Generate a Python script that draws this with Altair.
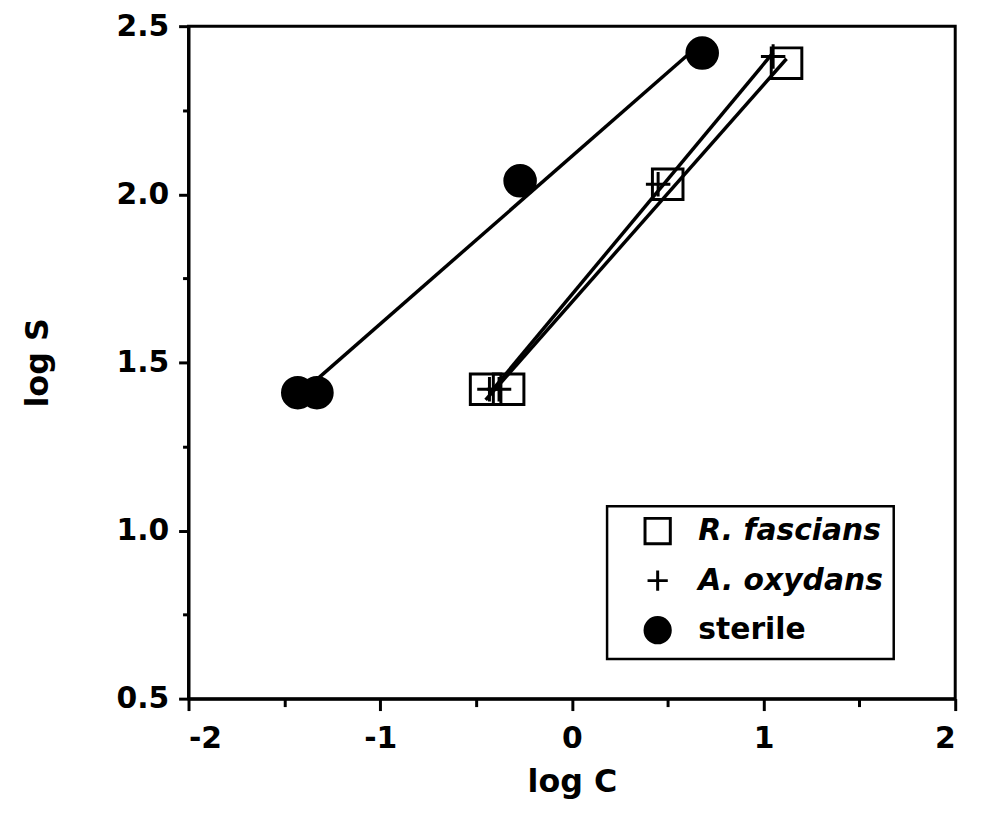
import altair as alt
import pandas as pd

# ---- data ----
series_names = ["R. fascians", "A. oxydans", "sterile"]

r_fascians_logC = [-0.45, -0.33, 0.50, 1.12]
r_fascians_logS = [1.42, 1.42, 2.03, 2.39]

a_oxydans_logC = [-0.43, -0.38, 0.45, 1.05]
a_oxydans_logS = [1.42, 1.42, 2.03, 2.41]

sterile_logC = [-1.43, -1.33, -0.27, 0.68]
sterile_logS = [1.41, 1.41, 2.04, 2.42]

x_tick_values = [-2, -1.5, -1, -0.5, 0, 0.5, 1, 1.5, 2]
y_tick_values = [0.5, 0.75, 1.0, 1.25, 1.5, 1.75, 2.0, 2.25, 2.5]

rows = []
for name, xs, ys in [
    (series_names[0], r_fascians_logC, r_fascians_logS),
    (series_names[1], a_oxydans_logC, a_oxydans_logS),
    (series_names[2], sterile_logC, sterile_logS),
]:
    for xv, yv in zip(xs, ys):
        rows.append({"series": name, "logC": xv, "logS": yv})
df = pd.DataFrame(rows)

FONT = "DejaVu Sans"

x_enc = alt.X(
    "logC:Q",
    scale=alt.Scale(domain=[-2, 2], nice=False, zero=False),
    axis=alt.Axis(
        title="log C",
        values=x_tick_values,
        labelExpr="datum.value % 1 === 0 ? '' + datum.value : ''",
        tickSize={"condition": {"test": "datum.value % 1 === 0", "value": 12}, "value": 8},
        labelPadding=13,
        titlePadding=14,
    ),
)
y_enc = alt.Y(
    "logS:Q",
    scale=alt.Scale(domain=[0.5, 2.5], nice=False, zero=False),
    axis=alt.Axis(
        title="log S",
        values=y_tick_values,
        labelExpr="datum.value % 0.5 === 0 ? format(datum.value, '.1f') : ''",
        tickSize={"condition": {"test": "datum.value % 0.5 === 0", "value": 10}, "value": 6},
        labelPadding=10,
        titlePadding=62,
    ),
)

# fitted (least-squares) lines, one per series
lines = (
    alt.Chart(df)
    .transform_regression("logC", "logS", groupby=["series"])
    .mark_line(color="black", strokeWidth=3.5)
    .encode(x=x_enc, y=y_enc, detail="series:N")
)

legend = alt.Legend(
    title=None,
    orient="none",
    legendX=422,
    legendY=484,
    padding=10,
    symbolOffset=26,
    labelOffset=26,
    rowPadding=14,
    symbolSize=650,
    symbolStrokeWidth=3,
    labelFont=FONT,
    labelFontSize=30,
    labelFontWeight="bold",
    labelFontStyle=alt.ExprRef("datum.value === 'sterile' ? 'normal' : 'italic'"),
    labelColor="black",
    labelLimit=400,
    strokeColor="black",
    fillColor="white",
)

points = alt.Chart(df).mark_point(filled=True, size=950, strokeWidth=3, opacity=1).encode(
    x=x_enc,
    y=y_enc,
    shape=alt.Shape(
        "series:N",
        scale=alt.Scale(
            domain=series_names,
            range=["square", "M-0.8,0H0.8M0,-0.8V0.8", "circle"],
        ),
        legend=legend,
    ),
    fill=alt.Fill(
        "series:N",
        scale=alt.Scale(domain=series_names, range=["transparent", "transparent", "black"]),
        legend=legend,
    ),
    stroke=alt.Stroke(
        "series:N",
        scale=alt.Scale(domain=series_names, range=["black", "black", "black"]),
        legend=legend,
    ),
)

chart = (
    alt.layer(lines, points)
    .properties(
        width=773,
        height=678,
        background="white",
        autosize=alt.AutoSizeParams(type="none"),
        padding={"left": 182, "top": 15, "right": 27, "bottom": 116},
    )
    .configure_view(stroke="black", strokeWidth=3)
    .configure_legend(strokeWidth=2.5)
    .configure_axis(
        domainColor="black",
        domainWidth=3,
        tickColor="black",
        tickWidth=3,
        grid=False,
        labelFont=FONT,
        labelFontSize=30,
        labelFontWeight="bold",
        labelColor="black",
        titleFont=FONT,
        titleFontSize=32,
        titleFontWeight="bold",
        titleColor="black",
    )
)

chart.save("out.html", embed_options={"renderer": "svg", "actions": False})
